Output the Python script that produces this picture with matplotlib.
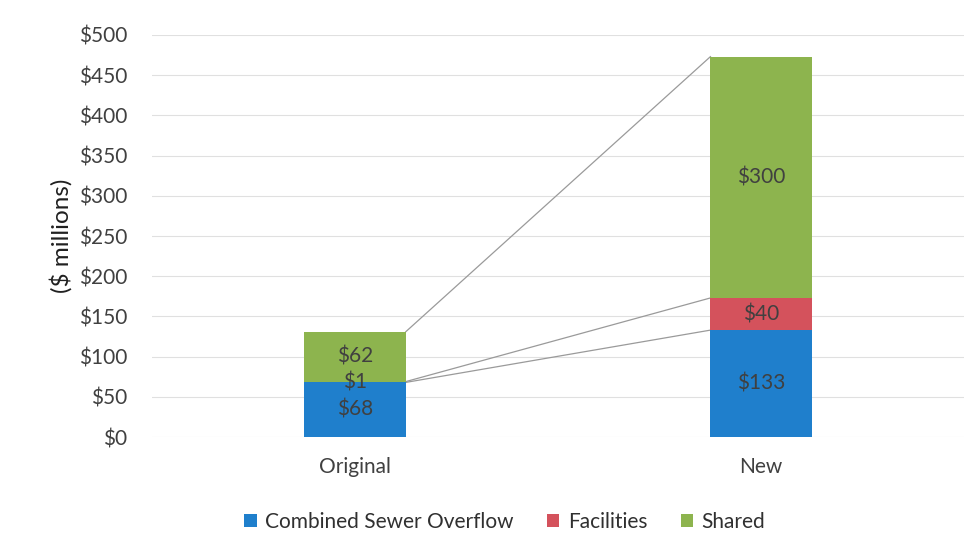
import matplotlib
matplotlib.use("Agg")
import matplotlib.pyplot as plt
import numpy as np

categories = ["Original", "New"]
series_names = ["Combined Sewer Overflow", "Facilities", "Shared"]
cso = [68, 133]
facilities = [1, 40]
shared = [62, 300]
colors = ["#1f7fcc", "#d4525c", "#8db44e"]
yticks = list(range(0, 501, 50))

plt.rcParams['font.family'] = ['Lato', 'DejaVu Sans']
fig = plt.figure(figsize=(9.8, 5.54), dpi=100)
ax = fig.add_axes([0.155, 0.211, 0.829, 0.726])

x = np.arange(len(categories))
w = 0.25
data = [cso, facilities, shared]
bottom = np.zeros(len(categories))
for vals, c, name in zip(data, colors, series_names):
    vals = np.array(vals, dtype=float)
    ax.bar(x, vals, w, bottom=bottom, color=c, label=name, zorder=3)
    for xi, v, b in zip(x, vals, bottom):
        ax.text(xi, b + v / 2, f"${int(v)}", ha="center", va="center",
                fontsize=15, color="#404040", zorder=4)
    bottom = bottom + vals

# connecting lines between stacked segment boundaries
cum = np.cumsum(np.array(data, dtype=float), axis=0)
for lvl in [cum[0], cum[1], cum[2]]:
    ax.plot([x[0] + w / 2, x[1] - w / 2], [lvl[0], lvl[1]], color="#9a9a9a",
            lw=0.9, zorder=2)

ax.set_xlim(-0.5, 1.5)
ax.set_ylim(0, 500)
ax.set_yticks(yticks)
ax.set_yticklabels([f"${t}" for t in yticks], fontsize=15, color="#404040")
ax.set_xticks(x)
ax.set_xticklabels(categories, fontsize=15, color="#404040")
ax.tick_params(length=0, pad=18)
ax.tick_params(axis='x', pad=14)
ax.grid(axis="y", color="#e0e0e0", lw=0.8, zorder=0)
for s in ax.spines.values():
    s.set_visible(False)
ax.set_ylabel("($ millions)", fontsize=17.5, color="#202020", labelpad=4)

handles, labels = ax.get_legend_handles_labels()
fig.legend(handles, labels, loc="center", bbox_to_anchor=(0.515, 0.058), ncol=3,
           frameon=False, fontsize=15, handlelength=0.6, handleheight=0.6,
           columnspacing=1.6, handletextpad=0.4, labelcolor="#303030")

fig.savefig("out.png", dpi=100)
